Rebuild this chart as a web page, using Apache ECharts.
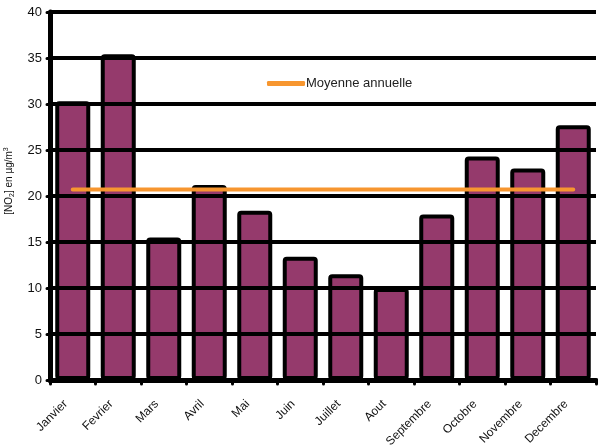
<!DOCTYPE html>
<html>
<head>
<meta charset="utf-8">
<script src="https://cdn.jsdelivr.net/npm/echarts@6/dist/echarts.min.js"></script>
<style>
  html, body { margin: 0; padding: 0; background: #fff; }
  #chart { width: 598px; height: 448px; }
</style>
</head>
<body>
<div id="chart"></div>
<script>
// Monthly NO2 concentrations (µg/m³)
const months = ['Janvier', 'Fevrier', 'Mars', 'Avril', 'Mai', 'Juin', 'Juillet', 'Aout', 'Septembre', 'Octobre', 'Novembre', 'Decembre'];
const no2Values = [30.3, 35.4, 15.5, 21.2, 18.4, 13.4, 11.5, 10.0, 18.0, 24.3, 23.0, 27.7];
const annualMean = 20.7;
const meanValues = months.map(() => annualMean);
const yTicks = [0, 5, 10, 15, 20, 25, 30, 35, 40];

const FONT = 'Liberation Sans, Arial, sans-serif';
const chart = echarts.init(document.getElementById('chart'), null, { renderer: 'canvas' });

chart.setOption({
  animation: false,
  backgroundColor: '#ffffff',
  grid: { left: 50, right: 2, top: 12, bottom: 68, containLabel: false, outerBoundsMode: 'none' },
  legend: {
    data: [{ name: 'Moyenne annuelle', icon: 'roundRect' }],
    left: 267,
    top: 77,
    itemWidth: 38,
    itemHeight: 5,
    itemGap: 0,
    padding: 0,
    textStyle: { fontFamily: FONT, fontSize: 13, color: '#222', padding: [0, 0, 0, -4] }
  },
  xAxis: {
    type: 'category',
    data: months,
    boundaryGap: true,
    axisLine: { show: true, lineStyle: { color: '#000', width: 5 } },
    axisTick: { show: true, interval: 0, length: 4, lineStyle: { color: '#000', width: 3, cap: 'round' } },
    axisLabel: {
      interval: 0,
      rotate: 45,
      margin: 15,
      padding: [0, 10, 0, 0],
      fontFamily: FONT,
      fontSize: 12,
      color: '#111'
    },
    z: 5
  },
  yAxis: {
    type: 'value',
    min: 0,
    max: 40,
    interval: 5,
    axisLine: { show: true, lineStyle: { color: '#000', width: 5 } },
    axisTick: { show: true, length: 3, lineStyle: { color: '#000', width: 3, cap: 'round' } },
    axisLabel: {
      margin: 8,
      fontFamily: FONT,
      fontSize: 13,
      color: '#111',
      formatter: v => (yTicks.includes(v) ? String(v) : '')
    },
    splitLine: { show: true, lineStyle: { color: '#000', width: 4 } },
    z: 5
  },
  series: [
    {
      name: 'NO2',
      type: 'bar',
      data: no2Values,
      barWidth: 35,
      itemStyle: { color: '#953a6c', borderColor: '#000', borderWidth: 4, borderRadius: 2 },
      z: 3
    },
    {
      name: 'Moyenne annuelle',
      type: 'line',
      data: meanValues,
      symbol: 'none',
      itemStyle: { color: '#f7962f' },
      lineStyle: { color: '#f7962f', width: 4, cap: 'round' },
      z: 6
    }
  ],
  graphic: [
    {
      type: 'text',
      x: 9,
      y: 181,
      rotation: Math.PI / 2,
      z: 10,
      style: {
        text: '[NO{sub|2}] en µg/m{sup|3}',
        fontFamily: FONT,
        fontSize: 10,
        fill: '#111',
        align: 'center',
        verticalAlign: 'middle',
        rich: {
          sub: { fontFamily: FONT, fontSize: 7, fill: '#111', padding: [6, 0, 0, 0] },
          sup: { fontFamily: FONT, fontSize: 7, fill: '#111', padding: [0, 0, 6, 0] }
        }
      }
    }
  ]
});
</script>
</body>
</html>
